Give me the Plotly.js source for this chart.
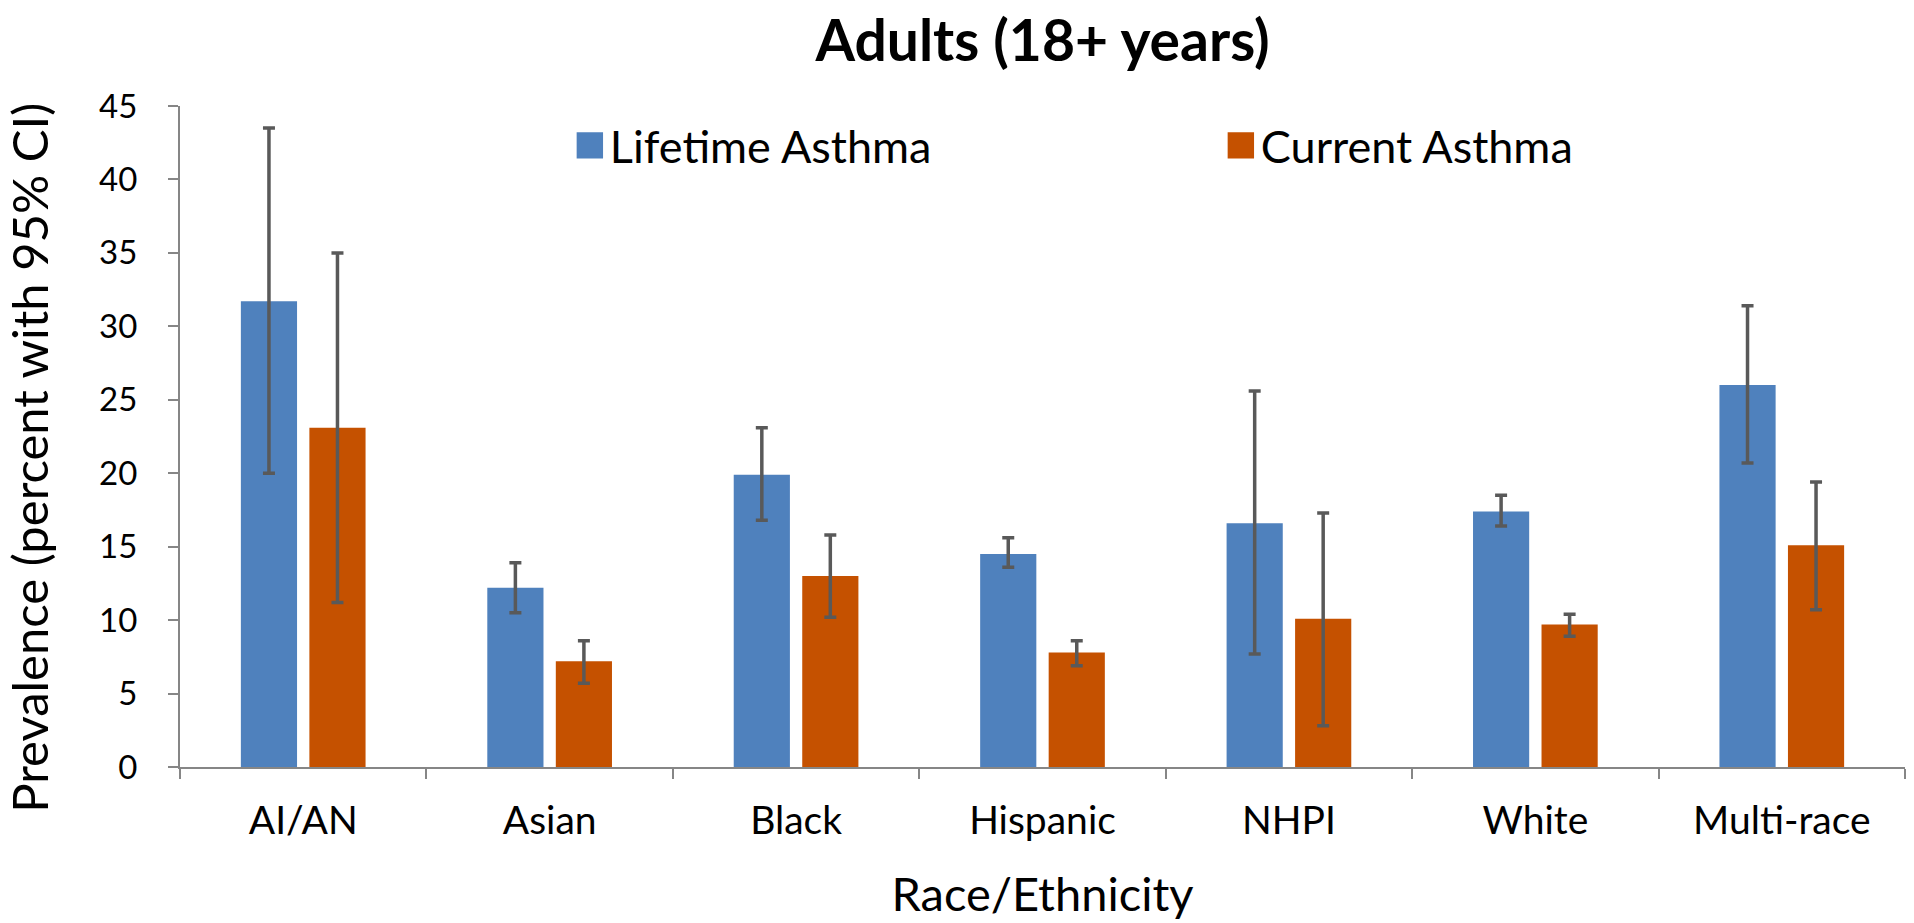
<!DOCTYPE html>
<html>
<head>
<meta charset="utf-8">
<script src="https://cdn.plot.ly/plotly-3.0.1.min.js"></script>
<style>html,body{margin:0;padding:0;background:#fff;}#chart{width:1914px;height:923px;}</style>
</head>
<body>
<div id="chart"></div>
<script>
const categories = ['AI/AN', 'Asian', 'Black', 'Hispanic', 'NHPI', 'White', 'Multi-race'];
const lifetime = [31.7, 12.2, 19.9, 14.5, 16.6, 17.4, 26.0];
const lifetimeLow = [20.0, 10.5, 16.8, 13.6, 7.7, 16.4, 20.7];
const lifetimeHigh = [43.5, 13.9, 23.1, 15.6, 25.6, 18.5, 31.4];
const current = [23.1, 7.2, 13.0, 7.8, 10.1, 9.7, 15.1];
const currentLow = [11.2, 5.7, 10.2, 6.9, 2.8, 8.9, 10.7];
const currentHigh = [35.0, 8.6, 15.8, 8.6, 17.3, 10.4, 19.4];
const yTicks = [0, 5, 10, 15, 20, 25, 30, 35, 40, 45];

const FONT = 'Lato, "Open Sans", sans-serif';
const errStyle = {color: '#595959', thickness: 3.5, width: 6};

function errBar(v, lo, hi) {
  return Object.assign({
    type: 'data', symmetric: false,
    array: hi.map((h, i) => h - v[i]),
    arrayminus: lo.map((l, i) => v[i] - l)
  }, errStyle);
}

const traces = [
  {type: 'bar', name: 'Lifetime Asthma', x: categories, y: lifetime,
   marker: {color: '#4F81BD'}, error_y: errBar(lifetime, lifetimeLow, lifetimeHigh)},
  {type: 'bar', name: 'Current Asthma', x: categories, y: current,
   marker: {color: '#C55100'}, error_y: errBar(current, currentLow, currentHigh)}
];

const layout = {
  width: 1914, height: 923,
  margin: {l: 180, r: 9, t: 106, b: 156},
  paper_bgcolor: '#fff', plot_bgcolor: '#fff',
  barmode: 'group', bargap: 0.444, bargroupgap: 0.18,
  font: {family: FONT, color: '#000'},
  title: {text: '<b>Adults (18+ years)</b>', font: {family: FONT, size: 57, color: '#000'},
          x: 0.5, xanchor: 'center', xref: 'paper', y: 0.955, yref: 'container', yanchor: 'middle'},
  showlegend: true,
  legend: {orientation: 'h', x: 0.226, xanchor: 'left', y: 0.94, yanchor: 'middle',
           font: {family: FONT, size: 45, color: '#000'}, entrywidth: 606, entrywidthmode: 'pixels',
           bgcolor: 'rgba(0,0,0,0)', traceorder: 'normal'},
  xaxis: {
    type: 'category', showgrid: false, zeroline: false,
    showline: true, linecolor: '#868686', linewidth: 2,
    ticks: 'outside', tickson: 'boundaries', ticklen: 10, tickwidth: 2, tickcolor: '#868686',
    ticklabelstandoff: 18,
    tickfont: {family: FONT, size: 39, color: '#000'},
    title: {text: 'Race/Ethnicity', font: {family: FONT, size: 47, color: '#000'}, standoff: 37}
  },
  yaxis: {
    range: [0, 45], tickvals: yTicks, ticktext: yTicks.map(String),
    showgrid: false, zeroline: false,
    showline: true, linecolor: '#868686', linewidth: 2,
    ticks: 'outside', ticklen: 10, tickwidth: 2, tickcolor: '#868686',
    ticklabelstandoff: 24,
    tickfont: {family: FONT, size: 33, color: '#000'}
  },
  annotations: [{
    text: 'Prevalence (percent with 95% CI)', textangle: -90, showarrow: false,
    xref: 'paper', yref: 'paper', x: -0.0875, y: 0.468, xanchor: 'center', yanchor: 'middle',
    font: {family: FONT, size: 49, color: '#000'}
  }]
};

Plotly.newPlot('chart', traces, layout, {displayModeBar: false, staticPlot: true}).then(() => {
  document.querySelectorAll('.legendpoints path').forEach(p => {
    const t = p.getAttribute('transform') || '';
    p.setAttribute('transform', t + ' scale(2.2)');
  });
});
</script>
</body>
</html>
